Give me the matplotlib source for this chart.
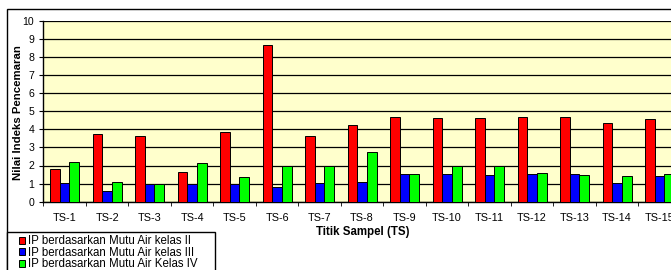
import numpy as np
import matplotlib
matplotlib.use('Agg')
import matplotlib.pyplot as plt
from matplotlib.patches import Rectangle

plt.rcParams['font.family'] = ['Liberation Sans', 'DejaVu Sans']

categories = ['TS-1', 'TS-2', 'TS-3', 'TS-4', 'TS-5', 'TS-6', 'TS-7', 'TS-8',
              'TS-9', 'TS-10', 'TS-11', 'TS-12', 'TS-13', 'TS-14', 'TS-15']
ip_kelas2 = [1.79, 3.72, 3.61, 1.66, 3.85, 8.66, 3.61, 4.22,
             4.68, 4.60, 4.60, 4.68, 4.68, 4.33, 4.57]
ip_kelas3 = [1.01, 0.59, 0.98, 0.99, 0.99, 0.81, 1.01, 1.07,
             1.53, 1.53, 1.45, 1.53, 1.53, 1.01, 1.40]
ip_kelas4 = [2.17, 1.07, 0.96, 2.12, 1.34, 2.00, 2.00, 2.76,
             1.53, 1.95, 1.95, 1.58, 1.47, 1.40, 1.53]
series_names = ['IP berdasarkan Mutu Air kelas II',
                'IP berdasarkan Mutu Air kelas III',
                'IP berdasarkan Mutu Air Kelas IV']

W, H = 671, 270
fig = plt.figure(figsize=(W / 100, H / 100), dpi=100)

# outer chart frame (cut at right/bottom like the reference)
fig.patches.append(Rectangle((6.7 / W, -0.1), 1.2, 1 - 9.3 / H + 0.1,
                             transform=fig.transFigure, fill=False,
                             edgecolor='black', linewidth=1.0))
# legend box
fig.patches.append(Rectangle((6.7 / W, -0.1), (215 - 6.7) / W, 1 - 232.3 / H + 0.1,
                             transform=fig.transFigure, facecolor='white',
                             edgecolor='black', linewidth=1.0, zorder=2))

ax = fig.add_axes([43.3 / W, 1 - 201.7 / H, 637.5 / W, 181.0 / H])
ax.set_facecolor('#FFFFCC')

x = np.arange(len(categories))
w = 0.228
ax.bar(x - w, ip_kelas2, w, color='#FF0000', edgecolor='black', linewidth=0.7,
       label=series_names[0], zorder=3)
ax.bar(x, ip_kelas3, w, color='#0000FF', edgecolor='black', linewidth=0.7,
       label=series_names[1], zorder=3)
ax.bar(x + w, ip_kelas4, w, color='#00FF00', edgecolor='black', linewidth=0.7,
       label=series_names[2], zorder=3)

ax.set_xlim(-0.5, len(categories) - 0.5)
ax.set_ylim(0, 10)
ax.set_yticks(range(11))
ax.yaxis.grid(True, color='black', linewidth=0.9, zorder=1)
ax.set_axisbelow(True)

ax.set_xticks(x)
ax.set_xticklabels(categories)
ax.set_xticks(np.arange(-0.5, len(categories)), minor=True)
ax.tick_params(axis='x', which='major', length=0, labelsize=7.8, pad=8.4)
ax.tick_params(axis='x', which='minor', length=3, direction='out')
ax.tick_params(axis='y', length=3, direction='out', labelsize=7.6, pad=3.5)

for s in ['top', 'right']:
    ax.spines[s].set_visible(False)
ax.spines['left'].set_linewidth(1.0)
ax.spines['bottom'].set_linewidth(1.0)

fig.text(18.3 / W, 1 - 113 / H, 'Nilai Indeks Pencemaran', rotation=90,
         ha='center', va='center', fontsize=8.2, fontweight='bold')
fig.text(363 / W, 1 - 232 / H, 'Titik Sampel (TS)', ha='center', va='center',
         fontsize=8.3, fontweight='bold')

leg = fig.legend(loc='upper left', bbox_to_anchor=(19 / W, 1 - 235.5 / H),
                 fontsize=8.3, frameon=False,
                 handlelength=0.55, handleheight=0.55, handletextpad=0.2,
                 labelspacing=-0.05, borderpad=0, borderaxespad=0)
leg.set_zorder(5)

fig.savefig('out.png', dpi=100)
